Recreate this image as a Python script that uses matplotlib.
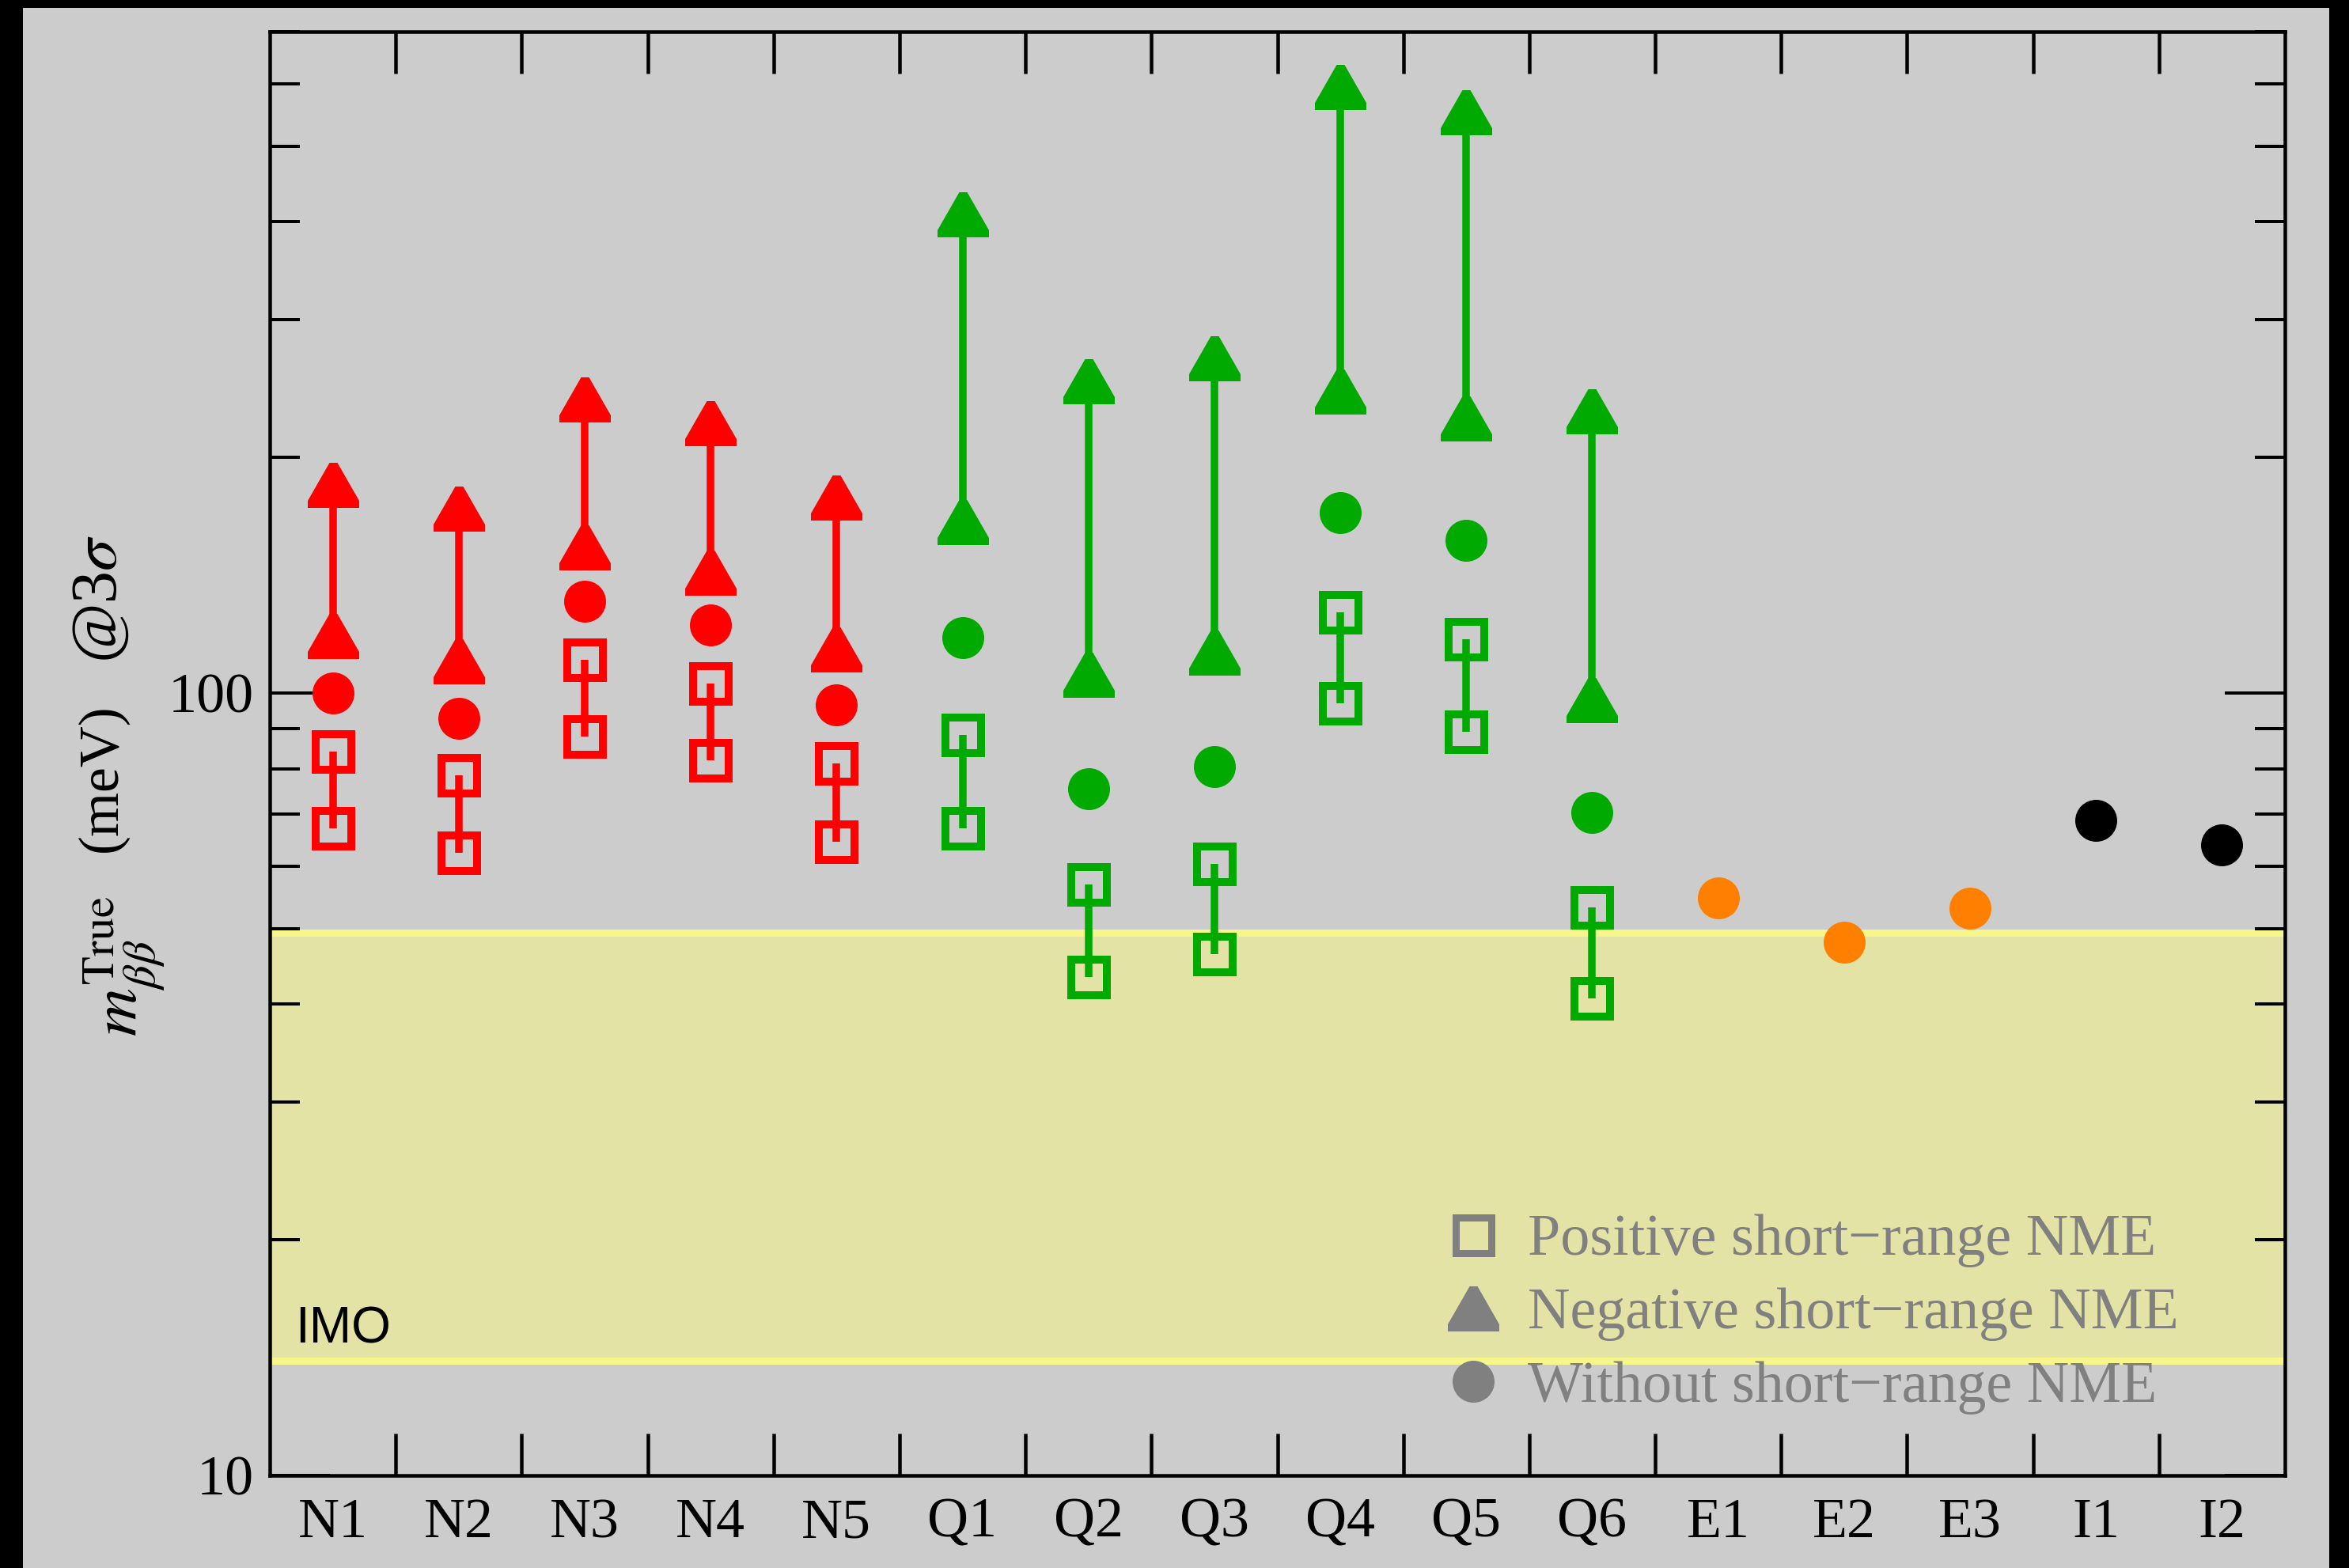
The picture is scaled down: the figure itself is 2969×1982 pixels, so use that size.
import numpy as np
import matplotlib
matplotlib.use("Agg")
import matplotlib.pyplot as plt
from matplotlib.path import Path
from matplotlib.lines import Line2D
from matplotlib.patches import Rectangle
from matplotlib.ticker import FixedLocator, NullFormatter, LogLocator

plt.rcParams["font.family"] = ["Liberation Serif", "DejaVu Serif"]
plt.rcParams["mathtext.fontset"] = "stix"

# ---------------------------------------------------------------- data
categories = ["N1", "N2", "N3", "N4", "N5", "Q1", "Q2", "Q3", "Q4", "Q5", "Q6",
              "E1", "E2", "E3", "I1", "I2"]
group_colors = ["#ff0000"] * 5 + ["#00aa00"] * 6 + ["#ff8000"] * 3 + ["#000000"] * 2

# m_bb^True (meV) without short-range NME, all models
m_without = [100.0, 92.8, 130.9, 122.0, 96.5, 117.8, 75.4, 80.6, 169.8, 156.8, 70.3,
             54.7, 48.0, 53.1, 68.7, 64.0]
# with positive short-range NME (N and Q models): lower / upper
m_pos_low = [67.2, 62.4, 88.0, 82.0, 64.6, 67.2, 43.3, 46.4, 97.0, 89.2, 40.7]
m_pos_high = [84.2, 78.5, 110.2, 102.7, 81.3, 88.4, 56.9, 60.5, 126.9, 117.2, 53.2]
# with negative short-range NME (N and Q models): lower / upper
m_neg_low = [118.3, 109.7, 153.4, 142.3, 113.6, 165.4, 105.4, 112.6, 242.5, 224.2, 97.8]
m_neg_high = [184.6, 172.0, 237.4, 221.2, 177.5, 408.4, 250.3, 267.4, 595.0, 552.0, 229.2]

# inverted-ordering band (meV)
imo_low, imo_high = 14.0, 49.4

legend_labels = ["Positive short\u2212range NME",
                 "Negative short\u2212range NME",
                 "Without short\u2212range NME"]

# ---------------------------------------------------------------- figure
W, H, DPI = 2969, 1982, 72
fig = plt.figure(figsize=(W / DPI, H / DPI), dpi=DPI, facecolor="#cccccc")
ax = fig.add_axes([341 / W, 1 - 1865 / H, (2888 - 341) / W, (1865 - 40) / H])
ax.set_facecolor("#cccccc")

# blunt-tipped triangle used for the negative-NME points
tri_verts = [(-5, 28.5), (5, 28.5), (32.5, -19.5), (32.5, -28.5),
             (-32.5, -28.5), (-32.5, -19.5), (-5, 28.5)]
tri_codes = [Path.MOVETO] + [Path.LINETO] * 5 + [Path.CLOSEPOLY]
tri_marker = Path(tri_verts, tri_codes)

x = np.arange(1, len(categories) + 1)
n_ranged = len(m_pos_low)

# IMO band
ax.axhspan(imo_low, imo_high, facecolor="#e3e3a6", edgecolor="none", zorder=1)
for yb in (imo_low, imo_high):
    ax.axhline(yb, color="#f6f68a", lw=9, zorder=1.5)
ax.text(0.0126, 0.092, "IMO", transform=ax.transAxes, fontsize=64,
        family="Liberation Sans", va="baseline", ha="left", zorder=2)

for i in range(n_ranged):
    c = group_colors[i]
    ax.plot([x[i], x[i]], [m_neg_low[i], m_neg_high[i]], color=c, lw=9.5,
            solid_capstyle="butt", zorder=3)
    ax.plot([x[i], x[i]], [m_neg_low[i], m_neg_high[i]], ls="none",
            marker=tri_marker, ms=65, mew=0, color=c, zorder=4)
    ax.plot([x[i], x[i]], [m_pos_low[i], m_pos_high[i]], ls="none",
            marker="s", ms=45, mew=10, mfc="none", mec=c, zorder=4)
    ax.plot([x[i], x[i]], [m_pos_low[i], m_pos_high[i]], color=c, lw=9.5,
            solid_capstyle="butt", zorder=5)

for i in range(len(categories)):
    ax.plot(x[i], m_without[i], ls="none", marker="o", ms=53, mew=0,
            color=group_colors[i], zorder=4)

# axes
ax.set_xlim(0.5, 16.5)
ax.set_yscale("log")
ax.set_ylim(10, 700)
ax.set_xticks(x)
ax.set_xticklabels(categories)
ax.xaxis.set_minor_locator(FixedLocator(np.arange(1.5, 16, 1.0)))
ax.yaxis.set_major_locator(FixedLocator([10, 100]))
ax.set_yticklabels(["10", "100"])
ax.yaxis.set_minor_locator(LogLocator(base=10, subs=np.arange(2, 10)))
ax.yaxis.set_minor_formatter(NullFormatter())

ax.tick_params(axis="x", which="major", length=0, labelsize=72, pad=28)
ax.tick_params(axis="x", which="minor", length=53, width=4.5, direction="in",
               top=True, bottom=True)
ax.tick_params(axis="y", which="major", length=76, width=4, direction="in",
               left=True, right=True, labelsize=72, pad=20)
ax.tick_params(axis="y", which="minor", length=38, width=4, direction="in",
               left=True, right=True)
for sp in ax.spines.values():
    sp.set_linewidth(4.5)
    sp.set_zorder(6)

# y-axis title, built from three pieces along a vertical baseline
label_kw = dict(rotation=90, rotation_mode="anchor", ha="center", va="baseline")
fig.text(175 / W, 1 - 1221 / H, r"$m_{\beta\beta}^{\mathrm{True}}$",
         fontsize=84, **label_kw)
fig.text(147 / W, 1 - 983 / H, "(meV)", fontsize=72, **label_kw)
fig.text(147 / W, 1 - 757 / H, r"@3$\sigma$", fontsize=82, **label_kw)

# legend
gray = "#808080"
handles = [
    Line2D([], [], ls="none", marker="s", ms=45, mew=9, mfc="none", mec=gray),
    Line2D([], [], ls="none", marker=tri_marker, ms=65, mew=0, color=gray),
    Line2D([], [], ls="none", marker="o", ms=53, mew=0, color=gray),
]
leg = ax.legend(handles, legend_labels, loc="upper left",
                bbox_to_anchor=(0.5827, 0.181), frameon=False, fontsize=74,
                handlelength=1.0, handletextpad=0.43, labelspacing=0.34,
                borderpad=0, borderaxespad=0, labelcolor=gray)
leg.set_zorder(7)

# dark frame around the page
fig.add_artist(Rectangle((0, 0), 28 / W, 1, transform=fig.transFigure,
                         color="black", zorder=10))
fig.add_artist(Rectangle((0, 1 - 9 / H), 1, 9 / H, transform=fig.transFigure,
                         color="black", zorder=10))
fig.add_artist(Rectangle((1 - 25 / W, 0), 25 / W, 1, transform=fig.transFigure,
                         color="black", zorder=10))

fig.savefig("out.png", dpi=DPI, facecolor=fig.get_facecolor())
